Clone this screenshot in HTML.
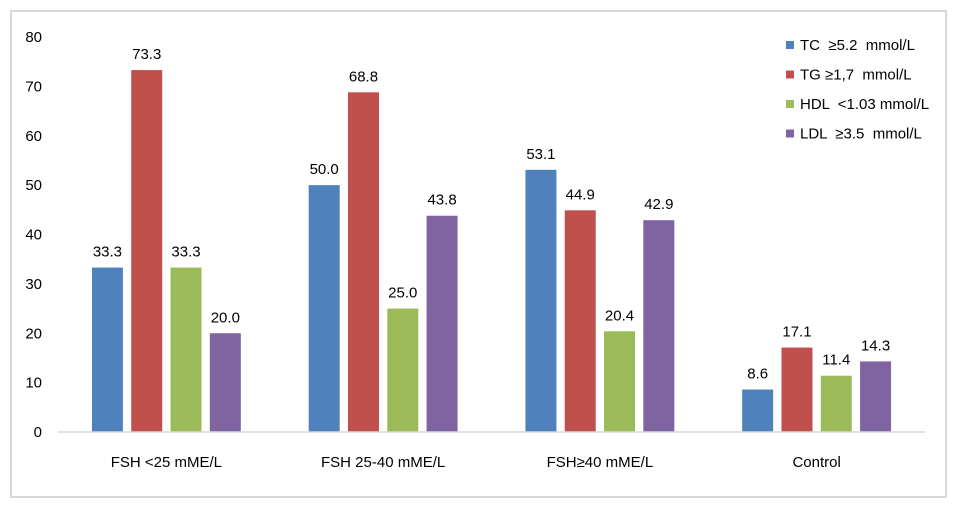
<!DOCTYPE html>
<html><head><meta charset="utf-8"><style>
body{margin:0;background:#fff;}
svg{display:block;font-family:"Liberation Sans",Calibri,sans-serif;}
</style></head><body>
<svg id="chart" width="963" height="509">
<rect x="11" y="11" width="935" height="486" fill="#fff" stroke="#d9d9d9" stroke-width="2"/>
<g id="yaxis"></g>
<g id="bars"></g>
<g id="xaxis"></g>
<g id="legend"></g>
</svg>
<script>
const categories=["FSH <25 mME/L","FSH 25-40 mME/L","FSH≥40 mME/L","Control"];
const seriesNames=["TC  ≥5.2  mmol/L","TG ≥1,7  mmol/L","HDL  <1.03 mmol/L","LDL  ≥3.5  mmol/L"];
const seriesColors=["#4f81bd","#c0504d","#9bbb59","#8064a2"];
const tcValues=[33.3,50.0,53.1,8.6];
const tgValues=[73.3,68.8,44.9,17.1];
const hdlValues=[33.3,25.0,20.4,11.4];
const ldlValues=[20.0,43.8,42.9,14.3];
const yTicks=[0,10,20,30,40,50,60,70,80];
const series=[tcValues,tgValues,hdlValues,ldlValues];
const NS="http://www.w3.org/2000/svg";
const x0=58,x1=925,yBase=432,yTop=37,yMax=80;
const y=v=>yBase-(v/yMax)*(yBase-yTop);
const catW=(x1-x0)/categories.length;
const cx=i=>x0+catW*(i+0.5);
const barW=31,step=39.3;
function mk(tag,attrs,parent,text){const e=document.createElementNS(NS,tag);for(const k in attrs)e.setAttribute(k,attrs[k]);if(text!==undefined)e.textContent=text;parent.appendChild(e);return e;}
const ya=document.getElementById('yaxis');
yTicks.forEach(t=>{const e=mk('text',{x:42,y:y(t)+5,'text-anchor':'end','font-size':15,fill:'#000'},ya,String(t));

});
const xa=document.getElementById('xaxis');
const ax=mk('line',{x1:x0,x2:x1,y1:yBase,y2:yBase,stroke:'#d9d9d9','stroke-width':1.5},xa);


categories.forEach((c,i)=>{const e=mk('text',{x:cx(i),y:467,'text-anchor':'middle','font-size':15,fill:'#000'},xa,c);

});
const bg=document.getElementById('bars');
series.forEach((vals,s)=>{vals.forEach((v,i)=>{
const bx=cx(i)+(s-1.5)*step-barW/2;
const r=mk('rect',{x:bx,y:y(v),width:barW,height:yBase-y(v),fill:seriesColors[s]},bg);


const t=mk('text',{x:bx+barW/2,y:y(v)-11,'text-anchor':'middle','font-size':15,fill:'#000'},bg,v.toFixed(1));


});});
const lg=document.getElementById('legend');
seriesNames.forEach((n,s)=>{const ly=45+s*29.5;
const r=mk('rect',{x:786,y:ly-4,width:8,height:8,fill:seriesColors[s]},lg);


const t=mk('text',{x:800,y:ly+5,'font-size':15,fill:'#000','xml:space':'preserve'},lg,n);


t.style.whiteSpace='pre';});
</script>
</body></html>
